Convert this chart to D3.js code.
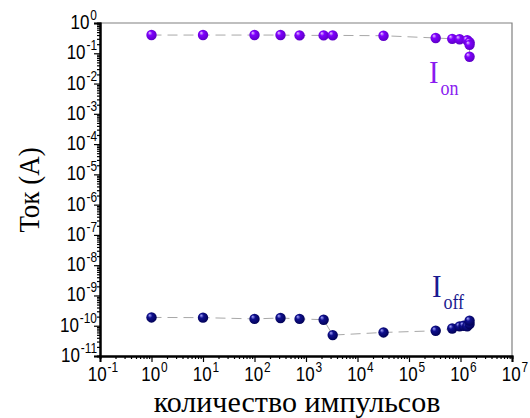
<!DOCTYPE html>
<html>
<head>
<meta charset="utf-8">
<script src="https://cdn.jsdelivr.net/npm/d3@7"></script>
<style>
  body { margin: 0; background: #fff; }
  .tick-label { font-family: "Liberation Sans", Arial, sans-serif; font-size: 20px; fill: #000; }
  .title { font-family: "Liberation Serif", "Times New Roman", serif; font-size: 30px; fill: #000; }
  .series-label { font-family: "Liberation Serif", "Times New Roman", serif; }
</style>
</head>
<body>
<svg id="chart" width="530" height="418"></svg>
<script>
// pulses and currents
const ionPulses = [1, 10, 100, 320, 750, 2200, 3300, 32000, 330000, 690000, 960000, 1350000, 1500000, 1500000, 1500000];
const ionCurrent = [0.40, 0.40, 0.40, 0.40, 0.39, 0.39, 0.39, 0.38, 0.32, 0.30, 0.29, 0.27, 0.23, 0.19, 0.077];
const offPulses = [1, 10, 100, 320, 750, 2200, 3300, 32000, 330000, 690000, 960000, 1150000, 1350000, 1500000, 1500000];
const offCurrent = [1.88e-10, 1.85e-10, 1.68e-10, 1.8e-10, 1.68e-10, 1.58e-10, 4.9e-11, 6.0e-11, 6.8e-11, 8.1e-11, 9.5e-11, 1.0e-10, 9.5e-11, 1.14e-10, 1.47e-10];
const xExponents = d3.range(-1, 8);
const yExponents = d3.range(-11, 1);
const xTitle = "количество импульсов";
const yTitle = "Ток (А)";

const svg = d3.select("#chart");
const plotLeft = 100, plotRight = 512, plotTop = 23, plotBottom = 356;
const squeeze = 0.85; // the source picture is narrow-set

const x = d3.scaleLog().domain([1e-1, 1e7]).range([plotLeft, plotRight]);
const y = d3.scaleLog().domain([1e-11, 1e0]).range([plotBottom, plotTop]);

const minors = exps => exps.slice(0, -1).flatMap(e => d3.range(2, 10).map(m => m * Math.pow(10, e)));

// frame (top / right thin grey)
svg.append("path")
  .attr("d", `M${plotLeft},${plotTop}H${plotRight}V${plotBottom}`)
  .attr("fill", "none").attr("stroke", "#808080").attr("stroke-width", 1.2);

// bottom axis
const gx = svg.append("g").attr("transform", `translate(0,${plotBottom})`);
gx.call(d3.axisBottom(x).tickValues(minors(xExponents)).tickSize(3).tickFormat(""));
gx.append("g").call(d3.axisBottom(x).tickValues(xExponents.map(e => Math.pow(10, e))).tickSize(6).tickFormat(""));
gx.selectAll(".domain").attr("stroke-width", 2);
gx.selectAll("line").attr("stroke-width", 1.2);

// left axis
const gy = svg.append("g").attr("transform", `translate(${plotLeft},0)`);
gy.call(d3.axisLeft(y).tickValues(minors(yExponents)).tickSize(3).tickFormat(""));
gy.append("g").call(d3.axisLeft(y).tickValues(yExponents.map(e => Math.pow(10, e))).tickSize(6).tickFormat(""));
gy.selectAll(".domain").attr("stroke-width", 2);
gy.selectAll("line").attr("stroke-width", 1.2);

// tick labels as 10 with superscript exponent
function power(px, py, e, anchor) {
  const t = svg.append("text").attr("class", "tick-label")
    .attr("transform", `translate(${px},${py}) scale(${squeeze},1)`)
    .attr("text-anchor", anchor);
  t.append("tspan").text("10");
  t.append("tspan").attr("font-size", 14).attr("dx", 1).attr("dy", -9).text(e);
}
xExponents.forEach(e => power(x(Math.pow(10, e)) + 3, 381, e, "middle"));
yExponents.forEach(e => power(97, y(Math.pow(10, e)) + 6, e, "end"));

// titles
svg.append("text").attr("class", "title")
  .attr("x", 297).attr("y", 412).attr("font-size", 26)
  .attr("text-anchor", "middle").text(xTitle);
svg.append("text").attr("class", "title")
  .attr("transform", "translate(39,190) rotate(-90) scale(0.9,1)")
  .attr("text-anchor", "middle").text(yTitle);

// sphere gradients
const defs = svg.append("defs");
function ball(id, light, base, dark) {
  const g = defs.append("radialGradient").attr("id", id)
    .attr("cx", "0.45").attr("cy", "0.45").attr("r", "0.6")
    .attr("fx", "0.32").attr("fy", "0.28");
  g.append("stop").attr("offset", "0%").attr("stop-color", light);
  g.append("stop").attr("offset", "35%").attr("stop-color", base);
  g.append("stop").attr("offset", "100%").attr("stop-color", dark);
}
ball("ionBall", "#e8c8ff", "#8000ff", "#5a00c0");
ball("offBall", "#a8a8ff", "#10108f", "#000050");

function series(pulses, current, fill) {
  const pts = pulses.map((p, i) => [x(p), y(current[i])]);
  svg.append("path")
    .attr("d", d3.line()(pts))
    .attr("fill", "none").attr("stroke", "#a8a8a8")
    .attr("stroke-width", 1).attr("stroke-dasharray", "10,6");
  svg.append("g").selectAll("circle").data(pts).join("circle")
    .attr("cx", d => d[0]).attr("cy", d => d[1]).attr("r", 5.2)
    .attr("fill", `url(#${fill})`);
}
series(ionPulses, ionCurrent, "ionBall");
series(offPulses, offCurrent, "offBall");

// series labels
function label(xp, yp, sub, color) {
  const t = svg.append("text").attr("class", "series-label")
    .attr("transform", `translate(${xp},${yp}) scale(0.9,1)`)
    .attr("fill", color).attr("font-size", 32);
  t.append("tspan").text("I");
  t.append("tspan").attr("font-size", 20).attr("dx", 2).attr("dy", 12).text(sub);
}
label(429, 83, "on", "#8a1cf0");
label(432, 297, "off", "#1a1a90");
</script>
</body>
</html>
